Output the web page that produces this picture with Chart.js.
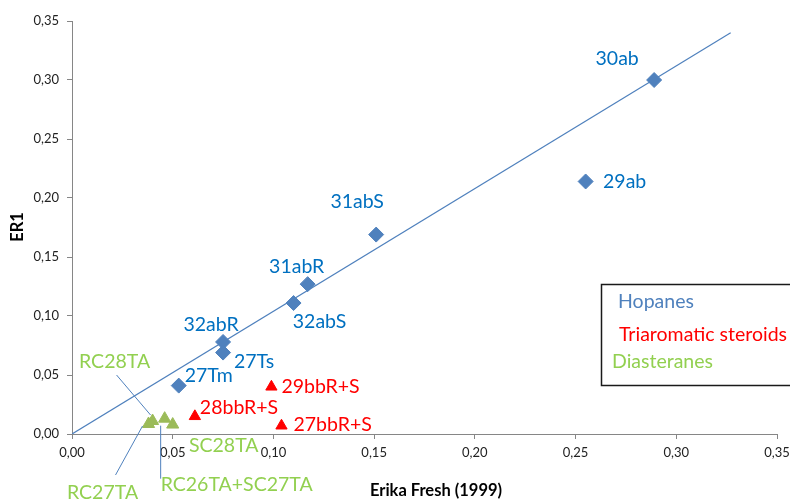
<!DOCTYPE html>
<html>
<head>
<meta charset="utf-8">
<script src="https://cdn.jsdelivr.net/npm/chart.js@4.4.1/dist/chart.umd.min.js"></script>
<style>
  html, body { margin: 0; padding: 0; background: #ffffff; }
  #wrap { width: 790px; height: 501px; position: relative; }
</style>
</head>
<body>
<div id="wrap"><canvas id="c" width="790" height="501"></canvas></div>
<script>
// ER1 versus Erika Fresh (1999) biomarker ratios
const hopaneNames = ['30ab', '29ab', '31abS', '31abR', '32abS', '32abR', '27Ts', '27Tm'];
const hopaneX = [0.289, 0.255, 0.151, 0.117, 0.110, 0.075, 0.075, 0.053];
const hopaneY = [0.300, 0.214, 0.169, 0.127, 0.111, 0.078, 0.069, 0.041];

const steroidNames = ['29bbR+S', '28bbR+S', '27bbR+S'];
const steroidX = [0.099, 0.061, 0.104];
const steroidY = [0.040, 0.015, 0.007];

const diasteraneNames = ['RC27TA', 'RC28TA', 'RC26TA+SC27TA', 'SC28TA'];
const diasteraneX = [0.038, 0.040, 0.046, 0.050];
const diasteraneY = [0.0085, 0.011, 0.013, 0.008];

// linear trend through the origin
const trendX = [0, 0.327];
const trendY = [0, 0.340];

const tickValues = [0, 0.05, 0.10, 0.15, 0.20, 0.25, 0.30, 0.35];
const xTitle = 'Erika Fresh (1999)';
const yTitle = 'ER1';
const legendEntries = ['Hopanes', 'Triaromatic steroids', 'Diasteranes'];

// label placement: [dx, dy, align] in pixels from the marker
const hopaneLabelPos = [[-37, -21, 'center'], [39, 0, 'center'], [-19, -33, 'center'], [-11, -17, 'center'],
                        [26, 19, 'center'], [-12, -17, 'center'], [31, 9, 'center'], [30, -10, 'center']];
const steroidLabelPos = [[10, 0, 'left'], [5, -9, 'left'], [12, -1, 'left']];
const diasteraneLabelPos = [[-46, 69, 'center'], [-38, -59, 'center'], [72, 66, 'center'], [51, 21, 'center']];
// leader lines: [x1, y1, x2, y2] in pixels from the marker, or null
const diasteraneLeaders = [[-33, 51, -6, 2], [-36, -46, -2, -6], [-4, 7, -4, 60], null];

const BLUE = '#4F81BD';
const LABEL_BLUE = '#0070C0';
const RED = '#FF0000';
const GREEN = '#9BBB59';
const LABEL_GREEN = '#92D050';
const FONT = 'Lato, "Open Sans", sans-serif';
const LABEL_FONT = '19.5px ' + FONT;

const toPoints = (xs, ys) => xs.map((x, i) => ({ x: x, y: ys[i] }));
const fmt = v => Number(v).toFixed(2).replace('.', ',');

const labelPlugin = {
  id: 'pointLabels',
  afterDatasetsDraw(chart) {
    const ctx = chart.ctx;
    const groups = [
      { ds: 0, names: hopaneNames, pos: hopaneLabelPos, color: LABEL_BLUE, leaders: null },
      { ds: 1, names: steroidNames, pos: steroidLabelPos, color: RED, leaders: null },
      { ds: 2, names: diasteraneNames, pos: diasteraneLabelPos, color: LABEL_GREEN, leaders: diasteraneLeaders }
    ];
    ctx.save();
    groups.forEach(g => {
      const meta = chart.getDatasetMeta(g.ds);
      meta.data.forEach((pt, i) => {
        if (g.leaders && g.leaders[i]) {
          const l = g.leaders[i];
          ctx.strokeStyle = BLUE;
          ctx.lineWidth = 1;
          ctx.beginPath();
          ctx.moveTo(pt.x + l[0], pt.y + l[1]);
          ctx.lineTo(pt.x + l[2], pt.y + l[3]);
          ctx.stroke();
        }
        const p = g.pos[i];
        ctx.font = LABEL_FONT;
        ctx.fillStyle = g.color;
        ctx.textAlign = p[2];
        ctx.textBaseline = 'middle';
        ctx.fillText(g.names[i], pt.x + p[0], pt.y + p[1]);
      });
    });
    ctx.restore();
  },
  afterDraw(chart) {
    const ctx = chart.ctx;
    ctx.save();
    // axis titles
    ctx.fillStyle = '#000000';
    ctx.font = 'bold 16.5px ' + FONT;
    ctx.textAlign = 'center';
    ctx.textBaseline = 'middle';
    ctx.fillText(xTitle, 436, 491);
    ctx.translate(18, 227);
    ctx.rotate(-Math.PI / 2);
    ctx.fillText(yTitle, 0, 0);
    ctx.restore();

    // text box listing the groups
    ctx.save();
    ctx.strokeStyle = '#1a1a1a';
    ctx.lineWidth = 1.5;
    ctx.fillStyle = '#ffffff';
    ctx.beginPath();
    ctx.rect(601.5, 284.5, 220, 101);
    ctx.fill();
    ctx.stroke();
    ctx.font = LABEL_FONT;
    ctx.textAlign = 'left';
    ctx.textBaseline = 'middle';
    ctx.fillStyle = BLUE;
    ctx.fillText(legendEntries[0], 618, 302);
    ctx.fillStyle = RED;
    ctx.fillText(legendEntries[1], 619, 335);
    ctx.fillStyle = LABEL_GREEN;
    ctx.fillText(legendEntries[2], 612, 362);
    ctx.restore();
  }
};

const axisCommon = {
  type: 'linear',
  min: 0,
  max: 0.35,
  afterBuildTicks: s => { s.ticks = tickValues.map(v => ({ value: v })); },
  ticks: {
    callback: v => fmt(v),
    color: '#222222',
    font: { family: FONT, size: 13 },
    padding: 6
  },
  grid: {
    drawOnChartArea: false,
    drawTicks: true,
    tickLength: 5,
    color: '#868686'
  },
  border: { display: true, color: '#868686', width: 1 }
};

new Chart(document.getElementById('c'), {
  type: 'scatter',
  data: {
    datasets: [
      {
        label: legendEntries[0],
        data: toPoints(hopaneX, hopaneY),
        pointStyle: 'rectRot',
        pointRadius: 7.5,
        backgroundColor: BLUE,
        borderColor: BLUE,
        borderWidth: 1,
        order: 1
      },
      {
        label: legendEntries[1],
        data: toPoints(steroidX, steroidY),
        pointStyle: 'triangle',
        pointRadius: 6.5,
        backgroundColor: RED,
        borderColor: RED,
        borderWidth: 1,
        order: 1
      },
      {
        label: legendEntries[2],
        data: toPoints(diasteraneX, diasteraneY),
        pointStyle: 'triangle',
        pointRadius: 7,
        backgroundColor: GREEN,
        borderColor: GREEN,
        borderWidth: 1,
        order: 1
      },
      {
        type: 'line',
        label: 'trend',
        data: toPoints(trendX, trendY),
        borderColor: BLUE,
        borderWidth: 1.2,
        pointRadius: 0,
        fill: false,
        order: 2
      }
    ]
  },
  options: {
    responsive: false,
    animation: false,
    events: [],
    layout: { padding: { top: 21, right: 13, bottom: 0, left: 0 } },
    plugins: { legend: { display: false }, tooltip: { enabled: false } },
    scales: {
      x: Object.assign({}, axisCommon, {
        position: 'bottom',
        afterFit: s => { s.height = 67; s.paddingLeft = 0; s.paddingRight = 0; }
      }),
      y: Object.assign({}, axisCommon, {
        position: 'left',
        ticks: Object.assign({}, axisCommon.ticks, { padding: 8 }),
        afterFit: s => { s.width = 72; s.paddingTop = 0; s.paddingBottom = 0; }
      })
    }
  },
  plugins: [labelPlugin]
});
</script>
</body>
</html>
